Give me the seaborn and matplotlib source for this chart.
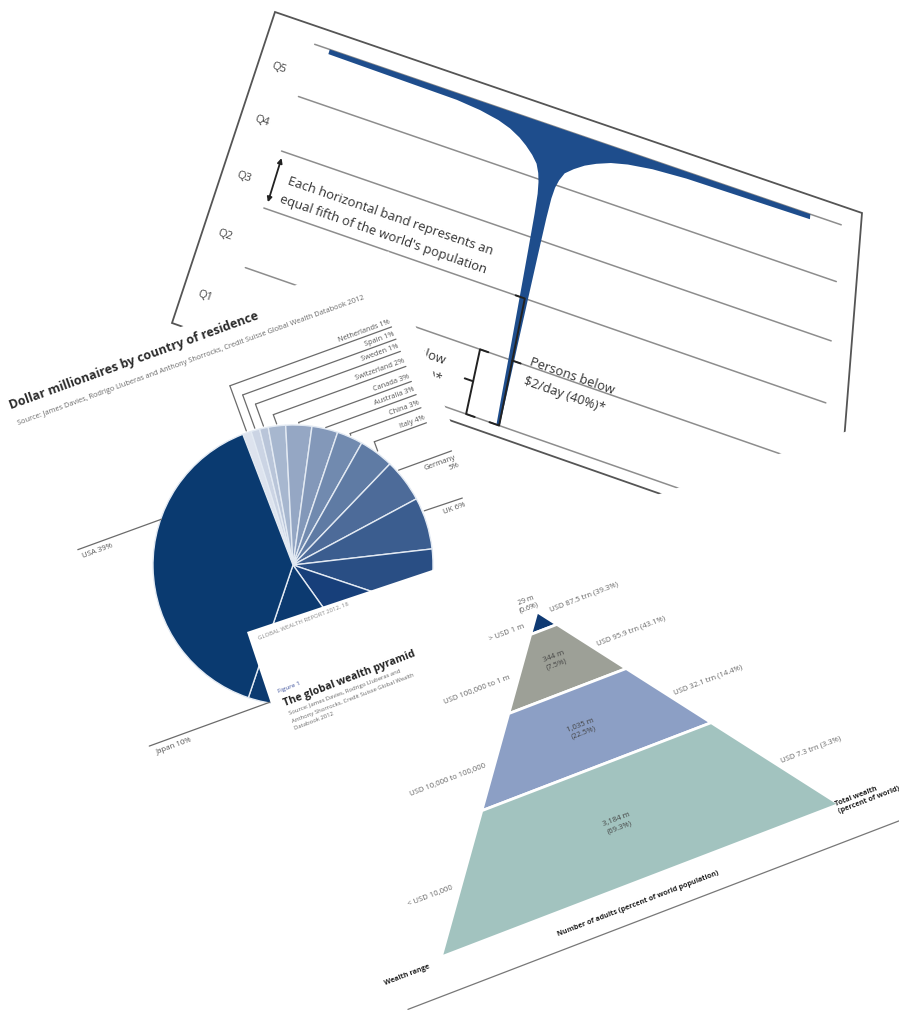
import numpy as np
import matplotlib
matplotlib.use('Agg')
import matplotlib.pyplot as plt
import matplotlib.transforms as mtransforms
import seaborn as sns

# --- champagne glass: world population ranked by income (quintiles from the top)
quintiles = ['Q5', 'Q4', 'Q3', 'Q2', 'Q1']
glass_pop_pct = [0, 1.8, 2.4, 3.2, 4.5, 6, 8, 10, 12.5, 15, 18, 21, 25, 32, 45, 60, 75, 90, 100]
glass_left = [241, 241, 105, 80, 60, 47, 36, 28, 20, 14, 10.5, 8.5, 7, 6, 5, 4, 3, 2.2, 1.5]
glass_right = [263, 263, 135, 100, 75, 58, 44, 33, 23, 15, 11, 8.5, 7, 6, 5, 4, 3, 2.2, 1.5]

# --- dollar millionaires by country of residence (%)
countries = ['Netherlands', 'Spain', 'Sweden', 'Switzerland', 'Canada', 'Australia', 'China',
             'Italy', 'Germany', 'UK', 'France', 'Japan', 'Other', 'USA']
shares = [1, 1, 1, 2, 3, 3, 3, 4, 5, 6, 7, 10, 15, 39]

# --- global wealth pyramid
tiers = ['> USD 1 m', 'USD 100,000 to 1 m', 'USD 10,000 to 100,000', '< USD 10,000']
adults_m = [29, 344, 1035, 3184]
adults_pct = [0.6, 7.5, 22.5, 69.3]
wealth_trn = [87.5, 95.9, 32.1, 7.3]
wealth_pct = [39.3, 43.1, 14.4, 3.3]


class Homography(mtransforms.Transform):
    input_dims = 2
    output_dims = 2
    has_inverse = True

    def __init__(self, mat):
        super().__init__()
        self.mat = mat

    def transform_non_affine(self, values):
        pts = np.atleast_2d(np.asarray(values, dtype=float))
        hom = np.column_stack([pts, np.ones(len(pts))]) @ self.mat.T
        return hom[:, :2] / hom[:, 2:]

    def inverted(self):
        return Homography(np.linalg.inv(self.mat))


def solve_homography(src, dst):
    rows, rhs = [], []
    for (x, y), (X, Y) in zip(src, dst):
        rows.append([x, y, 1, 0, 0, 0, -X * x, -X * y])
        rhs.append(X)
        rows.append([0, 0, 0, x, y, 1, -Y * x, -Y * y])
        rhs.append(Y)
    h = np.linalg.solve(np.array(rows, float), np.array(rhs, float))
    return np.append(h, 1).reshape(3, 3)


def set_limits(ax):
    ax.set_xlim(0, 899)
    ax.set_ylim(1010, 0)
    ax.set_aspect('auto')
    ax.axis('off')


def put_text(ax, T, x, y, s, **kw):
    # rotate the text so it follows the local x direction of the panel
    p0 = T.transform((x, y))
    p1 = T.transform((x + 1, y))
    ang = np.degrees(np.arctan2(p1[1] - p0[1], p1[0] - p0[0]))
    ax.text(x, y, s, transform=T, rotation=ang, rotation_mode='anchor', **kw)


sns.set_theme(style='white')
plt.rcParams['font.family'] = ['Open Sans', 'DejaVu Sans']

fig = plt.figure(figsize=(8.99, 10.10), dpi=100)
ax = fig.add_axes([0, 0, 1, 1])
ax.set_autoscale_on(False)

# ---------------- pie card (wedges first: ax.pie resets the limits)
pie_T = mtransforms.Affine2D().rotate_deg(-20).translate(293, 565)
T2 = pie_T + ax.transData
light_to_dark = sns.blend_palette(['#dde3ee', '#173f7a'], 12)
pie_colors = list(light_to_dark) + ['#0c3a70', '#0a3a70']
wedges, _ = ax.pie(shares, colors=pie_colors, radius=140, center=(0, 0), startangle=91,
                   counterclock=False, wedgeprops=dict(edgecolor='#e3eaf3', linewidth=1.0))
T_wedge = mtransforms.Affine2D().scale(1, -1) + pie_T + ax.transData
for w in wedges:
    w.set_transform(T_wedge)
    w.set_zorder(2.5)
set_limits(ax)

card2 = plt.Polygon([(-340, -262), (197, -262), (197, 330), (-340, 330)], closed=True,
                    fc='white', ec='none', transform=T2, zorder=2)
ax.add_patch(card2)

put_text(ax, T2, -212, -243, 'Dollar millionaires by country of residence', fontsize=9,
         weight='bold', color='#2b2b2b', va='baseline', zorder=3)
put_text(ax, T2, -210, -225, 'Source: James Davies, Rodrigo Lluberas and Anthony Shorrocks, '
         'Credit Suisse Global Wealth Databook 2012', fontsize=5.3, color='#6a6a6a',
         va='baseline', zorder=3)

cum = 91 - np.cumsum([0] + shares[:-1]) * 3.6
mids = np.radians(cum - np.array(shares) * 1.8)
rim_u = 142 * np.cos(mids)
rim_v = -142 * np.sin(mids)
top_rows = [-190, -177, -164, -148, -132, -118, -104, -88]
lc = '#6b6b6b'
for i, row in enumerate(top_rows):
    ax.plot([rim_u[i], 174], [row, row], color=lc, lw=0.9, transform=T2, zorder=3)
    if rim_v[i] > row:
        ax.plot([rim_u[i], rim_u[i]], [row, rim_v[i]], color=lc, lw=0.9, transform=T2, zorder=3)
    put_text(ax, T2, 174, row - 2, f'{countries[i]} {shares[i]}%', ha='right', va='bottom',
             fontsize=5.3, color='#555', zorder=3)
# Germany, UK
ax.plot([rim_u[8] - 4, 188], [-53, -53], color=lc, lw=0.9, transform=T2, zorder=3)
put_text(ax, T2, 190, -49, f'{countries[8]}\n{shares[8]}%', ha='right', va='top',
         fontsize=5.6, color='#555', zorder=3, linespacing=1.3)
ax.plot([rim_u[9], 182], [-6, -5], color=lc, lw=0.9, transform=T2, zorder=3)
put_text(ax, T2, 183, -1, f'{countries[9]} {shares[9]}%', ha='right', va='top',
         fontsize=5.6, color='#555', zorder=3)
# USA, Japan
ax.plot([-197, -108], [-88, -88], color=lc, lw=0.9, transform=T2, zorder=3)
put_text(ax, T2, -195, -83, f'{countries[13]} {shares[13]}%', ha='left', va='top',
         fontsize=5.6, color='#555', zorder=3)
ax.plot([-197, -40], [121, 121], color=lc, lw=0.9, transform=T2, zorder=3)
put_text(ax, T2, -192, 126, f'{countries[11]} {shares[11]}%', ha='left', va='top',
         fontsize=5.6, color='#555', zorder=3)

# ---------------- champagne glass panel (perspective)
W, H = 620, 330
T1 = Homography(solve_homography([(0, 0), (W, 0), (W, H), (0, H)],
                                 [(275, 12), (862, 213), (835, 555), (172, 323)])) + ax.transData
frame = plt.Polygon([(0, 0), (W, 0), (W, H), (0, H)], closed=True, fc='white', ec='#555',
                    lw=1.3, transform=T1, zorder=1)
ax.add_patch(frame)
top_v, band = 20, 60
for k in range(6):
    ax.plot([48, 600], [top_v + k * band] * 2, color='#8d8d8d', lw=1.1, transform=T1, zorder=1.1)
for k, q in enumerate(quintiles):
    put_text(ax, T1, 14, top_v + (k + 0.62) * band, q, ha='left', va='center', fontsize=8,
             color='#444', zorder=1.2)
stem_u = 305
gv = top_v + np.array(glass_pop_pct) / 100 * 5 * band
gl = stem_u - np.array(glass_left)
gr = stem_u + np.array(glass_right)
ax.fill(np.r_[gl, gr[::-1]], np.r_[gv, gv[::-1]], color='#1e4d8c', lw=0, transform=T1, zorder=1.3)

ax.annotate('', xy=(50, top_v + 2 * band + 4), xytext=(50, top_v + 3 * band - 4),
            xycoords=T1, textcoords=T1, zorder=1.4,
            arrowprops=dict(arrowstyle='<|-|>', color='#222', lw=1.3, mutation_scale=7))
put_text(ax, T1, 62, top_v + 2 * band + 30, 'Each horizontal band represents an',
         fontsize=9.4, color='#333', va='baseline', zorder=1.4,
         bbox=dict(fc='white', ec='none', pad=0.5))
put_text(ax, T1, 60, top_v + 2 * band + 50, "equal fifth of the world's population",
         fontsize=9.4, color='#333', va='baseline', zorder=1.4,
         bbox=dict(fc='white', ec='none', pad=0.5))

bk = '#222'
b0, b1 = top_v + 3 * band, top_v + 5 * band
ax.plot([297, 306, 306, 297], [b0, b0, b1, b1], color=bk, lw=1.4, transform=T1, zorder=1.4)
ax.plot([306, 314], [(b0 + b1) / 2] * 2, color=bk, lw=1.4, transform=T1, zorder=1.4)
s0 = top_v + 4 * band
ax.plot([283, 275, 275, 283], [s0, s0, b1, b1], color=bk, lw=1.4, transform=T1, zorder=1.4)
ax.plot([275, 267], [(s0 + b1) / 2] * 2, color=bk, lw=1.4, transform=T1, zorder=1.4)
put_text(ax, T1, 322, (b0 + b1) / 2 - 1, 'Persons below', fontsize=9.4, color='#333',
         va='baseline', zorder=1.4)
put_text(ax, T1, 320, (b0 + b1) / 2 + 17, '\\$2/day (40%)*', fontsize=9.4, color='#333',
         va='baseline', zorder=1.4)
put_text(ax, T1, 246, (s0 + b1) / 2 - 6, 'Persons below', fontsize=9.4, color='#333',
         ha='right', va='baseline', zorder=1.4)
put_text(ax, T1, 246, (s0 + b1) / 2 + 12, '\\$1.25/day)*', fontsize=9.4, color='#333',
         ha='right', va='baseline', zorder=1.4)

# ---------------- wealth pyramid card
T3c = mtransforms.Affine2D().rotate_deg(-18.5).translate(247, 632) + ax.transData
T3 = mtransforms.Affine2D().rotate_deg(-21).translate(247, 632) + ax.transData
card3 = plt.Polygon([(0, 0), (900, 0), (900, 700), (0, 700)], closed=True, fc='white',
                    ec='none', transform=T3c, zorder=4)
ax.add_patch(card3)

put_text(ax, T3, 8, 10, 'GLOBAL WEALTH REPORT 2012, 18', fontsize=4.3,
         color='#8a8a8a', va='center', zorder=5)
put_text(ax, T3, 8, 68, 'Figure 1', fontsize=4.6, color='#3b4f9a', va='baseline', zorder=5)
put_text(ax, T3, 9, 83, 'The global wealth pyramid', fontsize=7.6, weight='bold',
         color='#222', va='baseline', zorder=5)
for k, line in enumerate(['Source: James Davies, Rodrigo Lluberas and',
                          'Anthony Shorrocks, Credit Suisse Global Wealth',
                          'Databook 2012']):
    put_text(ax, T3, 10, 93 + 8 * k, line, fontsize=4.2, color='#666', va='baseline', zorder=5)

apex_u, apex_v, slope = 278, 85, 0.74
tier_edges = [0, 19, 85, 166, 288]
tier_colors = ['#0f3a73', '#9da097', '#8c9fc5', '#a2c3bf']
for i in range(4):
    d0, d1 = tier_edges[i], tier_edges[i + 1]
    ax.fill([apex_u - slope * d0, apex_u + slope * d0, apex_u + slope * d1, apex_u - slope * d1],
            [apex_v + d0, apex_v + d0, apex_v + d1, apex_v + d1], fc=tier_colors[i],
            ec='white', lw=2, transform=T3, zorder=4.5)
    mid = (d0 + d1) / 2
    put_text(ax, T3, apex_u - slope * mid - 10, apex_v + mid, tiers[i], ha='right', va='center',
             fontsize=5.5, color='#666', zorder=5)
    put_text(ax, T3, apex_u + slope * mid + 6, apex_v + mid - (6 if i == 0 else 0),
             f'USD {wealth_trn[i]} trn ({wealth_pct[i]}%)', ha='left', va='center',
             fontsize=5.5, color='#666', zorder=5)
    lbl = f'{adults_m[i]:,} m\n({adults_pct[i]}%)'
    if i == 0:
        put_text(ax, T3, apex_u - 6, apex_v - 3, lbl, ha='center', va='bottom', fontsize=5,
                 color='#555', zorder=5, linespacing=1.2)
    else:
        put_text(ax, T3, apex_u, apex_v + mid, lbl, ha='center', va='center', fontsize=5.5,
                 color='#444', zorder=5, linespacing=1.2)

put_text(ax, T3, 50, apex_v + 293, 'Wealth range', ha='right', va='center', fontsize=5.2,
         weight='bold', color='#222', zorder=5)
put_text(ax, T3, 488, apex_v + 291, 'Total wealth\n(percent of world)', ha='left', va='center',
         fontsize=5.2, weight='bold', color='#222', zorder=5, linespacing=1.2)
put_text(ax, T3, 268, apex_v + 309, 'Number of adults (percent of world population)',
         ha='center', va='center', fontsize=5.2, weight='bold', color='#222', zorder=5)
ax.plot([15, 800], [410, 410], color='#777', lw=0.9, transform=T3, zorder=4.6)

fig.savefig('out.png', dpi=100)
